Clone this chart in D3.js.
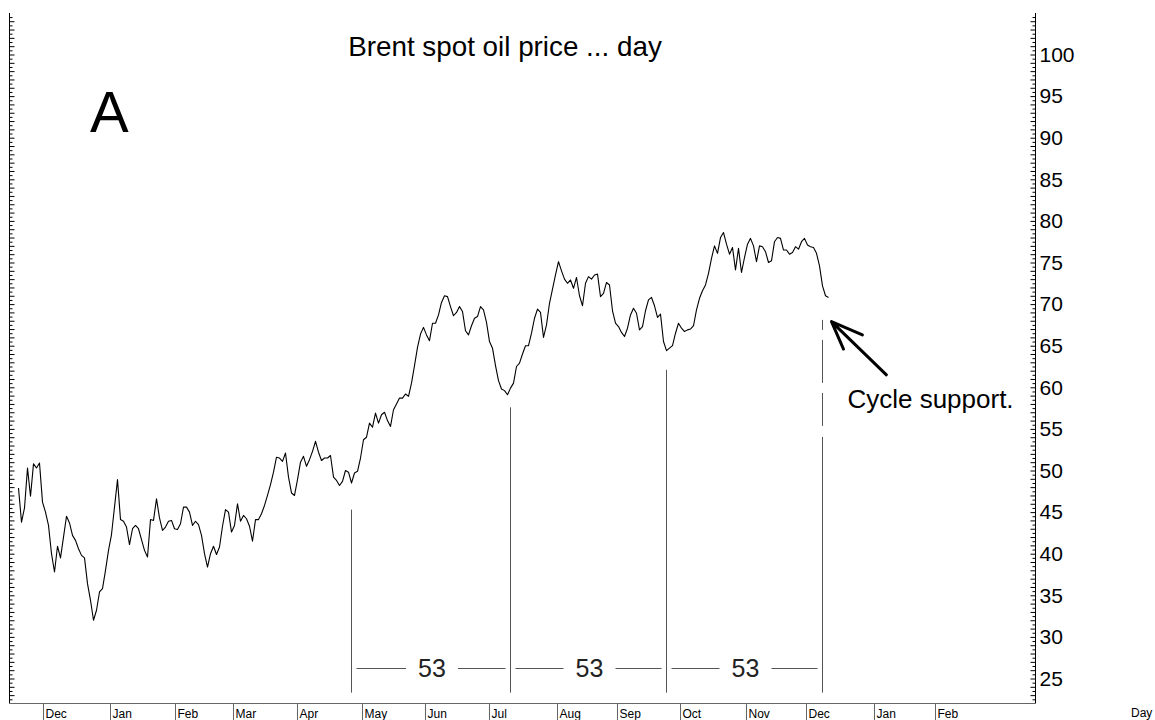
<!DOCTYPE html>
<html>
<head>
<meta charset="utf-8">
<script src="https://cdn.jsdelivr.net/npm/d3@7"></script>
<style>
  body { margin: 0; background: #fff; }
  svg { display: block; font-family: "Liberation Sans", Arial, sans-serif; }
</style>
</head>
<body>
<svg id="chart"></svg>
<script>
// Brent daily closes, one value per trading day
const prices = [
  47.9, 43.8, 45.5, 50.3, 46.9, 50.8, 50.3, 50.9, 46.2, 45.0,
  43.4, 40.0, 37.8, 40.9, 39.5, 42.0, 44.5, 43.7, 42.2, 41.6,
  40.6, 39.8, 39.5, 36.4, 34.4, 32.0, 33.2, 35.4, 35.8, 38.0,
  40.4, 42.3, 45.6, 48.9, 44.1, 43.9, 43.2, 41.1, 43.0, 43.4,
  43.0, 41.7, 40.4, 39.6, 44.1, 44.0, 46.6, 44.3, 42.8, 43.2,
  43.9, 44.0, 43.0, 42.9, 43.6, 45.6, 45.6, 45.0, 43.4, 43.9,
  43.5, 42.2, 40.0, 38.4, 40.0, 40.9, 39.9, 40.8, 43.3, 45.3,
  45.0, 42.6, 43.4, 46.0, 43.9, 44.6, 44.2, 43.3, 41.5, 44.1,
  44.1, 44.8, 45.8, 47.0, 48.3, 49.8, 51.6, 51.5, 51.1, 52.1,
  49.2, 47.3, 47.0, 48.9, 51.0, 51.7, 50.5, 51.3, 52.3, 53.5,
  52.2, 51.2, 51.5, 51.5, 51.8, 49.2, 48.8, 48.2, 48.7, 50.0,
  49.8, 48.5, 49.7, 49.9, 51.5, 53.7, 54.0, 55.7, 55.2, 56.9,
  55.7, 56.7, 57.0, 56.0, 55.3, 57.3, 58.0, 58.7, 58.7, 59.2,
  58.9, 60.5, 62.6, 64.8, 66.4, 67.2, 66.3, 65.6, 67.7, 67.7,
  68.7, 70.2, 71.0, 70.9, 69.7, 68.6, 69.0, 69.7, 69.1, 66.8,
  66.3, 67.4, 68.3, 68.5, 69.7, 69.3, 67.8, 65.5, 64.7, 62.6,
  60.8, 59.8, 59.6, 59.1, 59.9, 60.5, 62.5, 62.9, 64.0, 65.0,
  65.0, 66.5, 68.3, 69.4, 69.0, 66.0, 67.5, 70.1, 71.8, 73.5,
  75.1, 74.0, 73.0, 72.5, 72.9, 71.9, 73.2, 71.0, 69.8, 72.5,
  73.3, 73.0, 73.5, 73.6, 70.9, 71.3, 72.6, 72.3, 69.2, 67.7,
  67.3, 66.6, 66.1, 67.1, 68.7, 69.5, 68.9, 66.9, 67.3, 69.2,
  70.5, 70.8, 69.8, 68.4, 68.8, 65.5, 64.4, 64.7, 65.0, 66.5,
  67.7, 67.1, 66.7, 66.9, 67.0, 67.4, 69.3, 70.7, 71.6, 72.3,
  73.7, 75.5, 77.0, 76.1, 78.0, 78.6, 77.2, 76.0, 76.8, 74.1,
  76.7, 73.8, 75.6, 77.2, 77.9, 77.0, 75.1, 77.0, 76.9, 76.3,
  75.0, 75.2, 77.5, 78.0, 77.9, 76.5, 76.5, 76.0, 76.2, 76.9,
  76.6, 77.5, 77.9, 77.1, 76.9, 76.8, 76.1, 74.6, 72.2, 71.0,
  70.8
];

// Month ticks, in trading-day index
const monthLabels = ['Dec', 'Jan', 'Feb', 'Mar', 'Apr', 'May', 'Jun', 'Jul',
                     'Aug', 'Sep', 'Oct', 'Nov', 'Dec', 'Jan', 'Feb'];
const monthTicks = [8, 30.5, 52, 71.5, 93, 114.5, 135.5, 157,
                    179.5, 199.5, 220.5, 242.5, 262.5, 285, 305.5];
const priceTicks = d3.range(25, 101, 5);

// Cycle lows (trading-day index), where the marker lines start, and counts
const cycleDays = [111, 164, 216, 268];
const cycleTops = [45.3, 57.6, 62.1, 68.1];
const cycleCounts = ['53', '53', '53'];
const cycleBottom = 23.3;
const countLevel = 26.3;

// Arrow pointing at the last cycle line: tail, tip, two wing ends (index, price)
const arrowTail = [289.3, 61.5];
const arrowTip = [271, 67.9];
const arrowWings = [[281.3, 66.3], [275, 64.6]];
const noteAt = [276.3, 57.5];

const width = 1155;
const height = 720;
const frame = { left: 9.5, right: 1035.5, top: 13, bottom: 703.5 };
const font = '"Liberation Sans", Arial, sans-serif';

const svg = d3.select('#chart').attr('width', width).attr('height', height);
svg.append('rect').attr('width', width).attr('height', height).attr('fill', '#fff');

const x = d3.scaleLinear().domain([-3, 339]).range([frame.left, frame.right]);
const y = d3.scaleLinear().domain([25, 100]).range([678.5, 54.5]);

// Minor ticks every half dollar on both vertical axes
const minorTicks = d3.range(22.5, 105.01, 0.5).filter(v => y(v) >= frame.top && y(v) <= frame.bottom - 2);

const leftAxis = svg.append('g')
    .attr('transform', `translate(${frame.left},0)`)
    .call(d3.axisRight(y).tickValues(minorTicks).tickSize(4).tickSizeOuter(0).tickFormat(''));
leftAxis.select('.domain').remove();
leftAxis.selectAll('.tick line').attr('x2', d => (d % 1 === 0 ? 5 : 3)).attr('stroke', '#000');

const rightAxis = svg.append('g')
    .attr('transform', `translate(${frame.right},0)`)
    .call(d3.axisLeft(y).tickValues(minorTicks).tickSize(4).tickSizeOuter(0).tickFormat(''));
rightAxis.select('.domain').remove();
rightAxis.selectAll('.tick line').attr('x2', d => (d % 1 === 0 ? -5 : -3)).attr('stroke', '#000');

const priceLabels = svg.append('g')
    .attr('transform', `translate(${frame.right},0)`)
    .call(d3.axisRight(y).tickValues(priceTicks).tickSize(0).tickPadding(4));
priceLabels.select('.domain').remove();
priceLabels.selectAll('text')
    .attr('font-size', 21)
    .attr('font-family', font)
    .attr('fill', '#000');

// Frame lines
svg.append('line')
    .attr('x1', frame.left).attr('x2', frame.left)
    .attr('y1', frame.top).attr('y2', frame.bottom)
    .attr('stroke', '#000');
svg.append('line')
    .attr('x1', frame.right).attr('x2', frame.right)
    .attr('y1', frame.top).attr('y2', frame.bottom)
    .attr('stroke', '#000');
svg.append('line')
    .attr('x1', frame.left).attr('x2', frame.right)
    .attr('y1', frame.bottom).attr('y2', frame.bottom)
    .attr('stroke', '#666');

// Month axis
const monthAxis = svg.append('g')
    .attr('transform', `translate(0,${frame.bottom})`)
    .call(d3.axisBottom(x).tickValues(monthTicks).tickSize(17).tickSizeOuter(0)
        .tickFormat((d, i) => monthLabels[i]));
monthAxis.select('.domain').remove();
monthAxis.selectAll('.tick line').attr('stroke', '#666');
monthAxis.selectAll('.tick').attr('transform', d => `translate(${Math.round(x(d)) + 0.5},0)`);
monthAxis.selectAll('text')
    .attr('x', 2)
    .attr('y', 14)
    .attr('dy', 0)
    .attr('text-anchor', 'start')
    .attr('font-size', 12)
    .attr('font-family', font)
    .attr('fill', '#000');

svg.append('text')
    .attr('x', 1131).attr('y', 717)
    .attr('font-size', 12)
    .text('Day');

// Price line
const line = d3.line()
    .x((d, i) => x(i))
    .y(d => y(d));

svg.append('path')
    .datum(prices)
    .attr('d', line)
    .attr('fill', 'none')
    .attr('stroke', '#000')
    .attr('stroke-width', 1.1)
    .attr('stroke-linejoin', 'round');

// Cycle marker lines
svg.selectAll('.cycle')
    .data(cycleDays)
    .enter()
    .append('line')
    .attr('class', 'cycle')
    .attr('x1', d => x(d)).attr('x2', d => x(d))
    .attr('y1', (d, i) => y(cycleTops[i]))
    .attr('y2', y(cycleBottom))
    .attr('stroke', '#555')
    .attr('stroke-dasharray', (d, i) => (i === cycleDays.length - 1 ? '10,10,43,10,33,11,400' : null));

// Cycle length labels with dashes either side
cycleCounts.forEach((label, k) => {
    const a = x(cycleDays[k]);
    const b = x(cycleDays[k + 1]);
    const mid = (a + b) / 2 + 1;
    const yy = Math.round(y(countLevel)) + 0.5;
    svg.append('line')
        .attr('x1', a + 5).attr('x2', mid - 26)
        .attr('y1', yy).attr('y2', yy)
        .attr('stroke', '#555');
    svg.append('line')
        .attr('x1', mid + 26).attr('x2', b - 5)
        .attr('y1', yy).attr('y2', yy)
        .attr('stroke', '#555');
    svg.append('text')
        .attr('x', mid).attr('y', yy)
        .attr('dy', '0.35em')
        .attr('text-anchor', 'middle')
        .attr('font-size', 25)
        .attr('fill', '#222')
        .text(label);
});

// Arrow and note
const p = d => [x(d[0]), y(d[1])];
svg.append('path')
    .attr('d', `M${p(arrowTail)}L${p(arrowTip)}M${p(arrowWings[0])}L${p(arrowTip)}L${p(arrowWings[1])}`)
    .attr('fill', 'none')
    .attr('stroke', '#000')
    .attr('stroke-width', 3)
    .attr('stroke-linecap', 'round')
    .attr('stroke-linejoin', 'round');

svg.append('text')
    .attr('x', x(noteAt[0])).attr('y', y(noteAt[1]))
    .attr('font-size', 26)
    .attr('fill', '#000')
    .text('Cycle support.');

// Title and panel letter
svg.append('text')
    .attr('x', 505).attr('y', 56)
    .attr('text-anchor', 'middle')
    .attr('font-size', 27.8)
    .attr('fill', '#000')
    .text('Brent spot oil price ... day');

svg.append('text')
    .attr('x', 90).attr('y', 132)
    .attr('font-size', 58)
    .attr('fill', '#000')
    .text('A');
</script>
</body>
</html>
